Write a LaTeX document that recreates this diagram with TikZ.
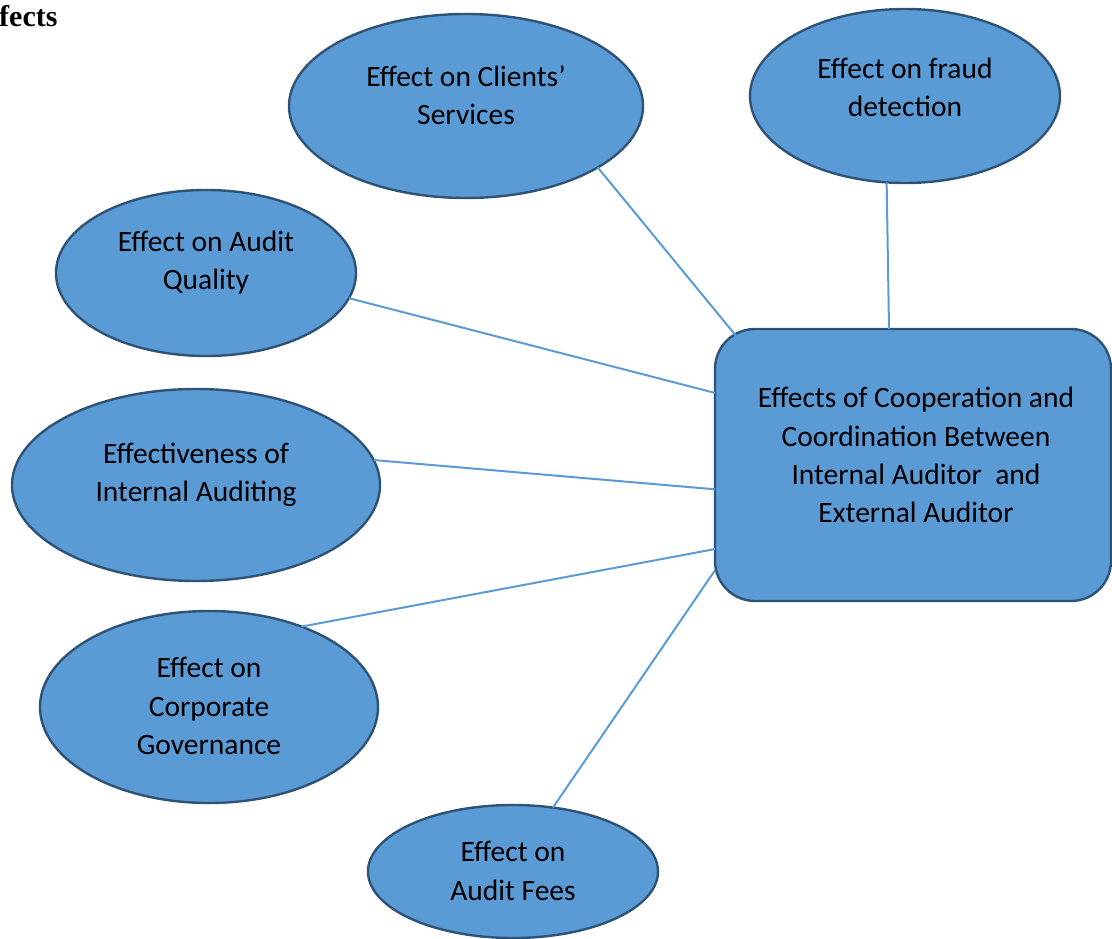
\documentclass[tikz,border=0pt]{standalone}
\usepackage{fontspec}
\setmainfont{Carlito}
\newfontfamily\headfont{Liberation Serif}
\usetikzlibrary{shapes.geometric,calc}
\definecolor{bubble}{HTML}{5B9BD5}
\definecolor{rim}{HTML}{2F5377}
\definecolor{wire}{HTML}{5B9BD5}
\begin{document}
\begin{tikzpicture}[x=1pt,y=-1pt,
  oval/.style={ellipse,draw=rim,fill=bubble,line width=2.4pt,inner sep=0pt,outer sep=0pt},
  hub/.style={rectangle,rounded corners=40pt,draw=rim,fill=bubble,line width=2.4pt,inner sep=0pt,outer sep=0pt},
  lbl/.style={align=center,font=\fontsize{29.5}{38.2}\selectfont,text=black,inner sep=0pt},
  link/.style={draw=wire,line width=2pt}]
\useasboundingbox (0,0) rectangle (1112,939);

% heading fragment
\node[anchor=base west,inner sep=0pt,font=\headfont\bfseries\fontsize{30}{36}\selectfont] (head) at (-1,27) {fects};

% central box
\node[hub,minimum width=396pt,minimum height=272pt] (hub) at (913,465) {};
\node[lbl] (hubtxt) at (916,455) {Effects of Cooperation and\\Coordination Between\\Internal Auditor~ and\\External Auditor};

% surrounding effects
\node[oval,minimum width=354pt,minimum height=184pt] (clients) at (466,106) {};
\node[lbl] (clientstxt) at (466,95) {Effect on Clients’\\Services};

\node[oval,minimum width=310pt,minimum height=174pt] (fraud) at (905,96) {};
\node[lbl] (fraudtxt) at (905,87) {Effect on fraud\\detection};

\node[oval,minimum width=300pt,minimum height=166pt] (quality) at (206,273) {};
\node[lbl] (qualitytxt) at (206,263) {Effect on Audit\\Quality};

\node[oval,minimum width=368pt,minimum height=192pt] (internal) at (196,485) {};
\node[lbl] (internaltxt) at (196,475) {Effectiveness of\\Internal Auditing};

\node[oval,minimum width=338pt,minimum height=192pt] (gov) at (209,707) {};
\node[lbl] (govtxt) at (209,706) {Effect on\\Corporate\\Governance};

\node[oval,minimum width=290pt,minimum height=133pt] (fees) at (513,871.5) {};
\node[lbl] (feestxt) at (513,871) {Effect on\\Audit Fees};

% connectors to the central box
\draw[link] (clients.-25.2) -- ($(hub.north west)+(22,8)$);
\draw[link] (fraud.-102.5) -- (hub.100.7);
\draw[link] (quality.-10.6) -- (hub.160.6);
\draw[link] (internal.8.7) -- (hub.187.5);
\draw[link] (gov.41.7) -- (hub.203.4);
\draw[link] (fees.58.8) -- (hub.208.7);
\end{tikzpicture}
\end{document}
